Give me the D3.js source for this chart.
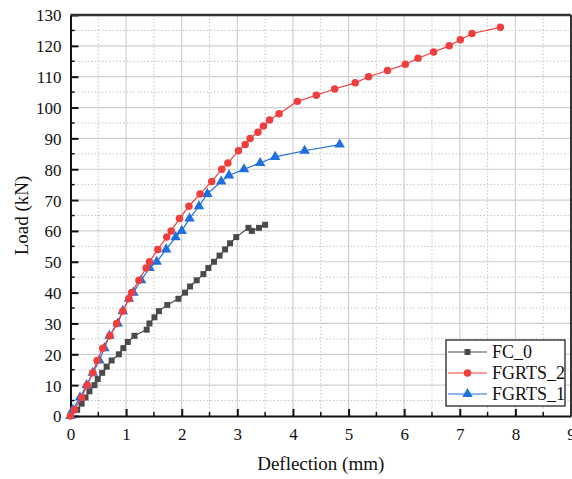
<!DOCTYPE html>
<html>
<head>
<meta charset="utf-8">
<script src="https://cdn.jsdelivr.net/npm/d3@7"></script>
<style>
  body { margin: 0; background: #fff; }
  text { font-family: "Liberation Serif", "Times New Roman", serif; }
</style>
</head>
<body>
<script>
var fc0X = [0,0.12,0.2,0.27,0.34,0.43,0.49,0.57,0.65,0.74,0.87,0.95,1.03,1.15,1.37,1.42,1.51,1.59,1.74,1.94,2.06,2.15,2.27,2.39,2.48,2.58,2.68,2.78,2.87,2.98,3.2,3.26,3.39,3.5];
var fc0Y = [0,2,4,6,8,10,12,14,16,18,20,22,24,26,28,30,32,34,36,38,40,42,44,46,48,50,52,54,56,58,61,60,61,62];

var fg2X = [0,0.07,0.2,0.3,0.4,0.48,0.58,0.71,0.83,0.94,1.05,1.1,1.23,1.36,1.42,1.57,1.73,1.81,1.96,2.13,2.33,2.54,2.72,2.83,3.02,3.14,3.23,3.37,3.47,3.58,3.75,4.08,4.42,4.75,5.12,5.36,5.7,6.02,6.25,6.53,6.81,7.01,7.22,7.73];
var fg2Y = [0,2,6,10,14,18,22,26,30,34,38,40,44,48,50,54,58,60,64,68,72,76,80,82,86,88,90,92,94,96,98,102,104,106,108,110,112,114,116,118,120,122,124,126];

var fg1X = [0,0.04,0.17,0.29,0.4,0.52,0.61,0.7,0.85,0.94,1.05,1.13,1.27,1.42,1.55,1.72,1.89,2.0,2.14,2.31,2.46,2.71,2.85,3.12,3.41,3.68,4.21,4.84];
var fg1Y = [0,2,6,10,14,18,22,26,30,34,38,40,44,48,50,54,58,60,64,68,72,76,78,80,82,84,86,88];

var xTicks = [0,1,2,3,4,5,6,7,8,9];
var yTicks = [0,10,20,30,40,50,60,70,80,90,100,110,120,130];
var seriesNames = ['FC_0','FGRTS_2','FGRTS_1'];
var colors = ['#4a4a4a','#ef3e3e','#1f6fdc'];
var shapes = [d3.symbolSquare, d3.symbolCircle, d3.symbolTriangle];
var symSizes = [36, 44, 48];

var W = 572, H = 479;
var padL = 70.5, padR = 571, padT = 15, padB = 416;

var svg = d3.select('body').append('svg').attr('width', W).attr('height', H);

var x = d3.scaleLinear().domain([0, 9]).range([padL, padR]);
var y = d3.scaleLinear().domain([0, 130]).range([padB, padT]);

// grid
var minorX = d3.range(0.5, 9, 1);
var minorY = d3.range(5, 130, 10);
svg.selectAll('line.mgx').data(minorX).enter().append('line')
    .attr('x1', function(d){ return x(d); }).attr('x2', function(d){ return x(d); })
    .attr('y1', padT).attr('y2', padB)
    .attr('stroke', '#c4c4c4').attr('stroke-dasharray', '1.5,2');
svg.selectAll('line.mgy').data(minorY).enter().append('line')
    .attr('y1', function(d){ return y(d); }).attr('y2', function(d){ return y(d); })
    .attr('x1', padL).attr('x2', padR)
    .attr('stroke', '#c4c4c4').attr('stroke-dasharray', '1.5,2');
svg.selectAll('line.gx').data(xTicks.slice(1, -1)).enter().append('line')
    .attr('x1', function(d){ return x(d); }).attr('x2', function(d){ return x(d); })
    .attr('y1', padT).attr('y2', padB)
    .attr('stroke', '#cfcfcf').attr('stroke-width', 1.2);
svg.selectAll('line.gy').data(yTicks.slice(1, -1)).enter().append('line')
    .attr('y1', function(d){ return y(d); }).attr('y2', function(d){ return y(d); })
    .attr('x1', padL).attr('x2', padR)
    .attr('stroke', '#cfcfcf').attr('stroke-width', 1.2);

// axes with inward ticks
var xAxis = svg.append('g').attr('transform', 'translate(0,' + padB + ')')
    .call(d3.axisBottom(x).tickValues(xTicks).tickSizeInner(-7).tickSizeOuter(0).tickPadding(16).tickFormat(d3.format('d')));
var yAxis = svg.append('g').attr('transform', 'translate(' + padL + ',0)')
    .call(d3.axisLeft(y).tickValues(yTicks).tickSizeInner(-8).tickSizeOuter(0).tickPadding(8).tickFormat(d3.format('d')));
[xAxis, yAxis].forEach(function(g){
  g.attr('font-family', '"Liberation Serif", serif');
  g.select('.domain').attr('stroke', '#111').attr('stroke-width', 2);
  g.selectAll('.tick line').attr('stroke', '#111').attr('stroke-width', 2);
  g.selectAll('.tick text').attr('font-size', 17).attr('fill', '#111');
});
xAxis.selectAll('.tick text').attr('dy', '0.35em').attr('y', 18);
yAxis.selectAll('.tick text').attr('dy', '0.35em').attr('x', -9);

svg.selectAll('line.mtx').data(minorX).enter().append('line')
    .attr('x1', function(d){ return x(d); }).attr('x2', function(d){ return x(d); })
    .attr('y1', padB).attr('y2', padB - 4)
    .attr('stroke', '#111').attr('stroke-width', 1.5);
svg.selectAll('line.mty').data(minorY).enter().append('line')
    .attr('y1', function(d){ return y(d); }).attr('y2', function(d){ return y(d); })
    .attr('x1', padL).attr('x2', padL + 4)
    .attr('stroke', '#111').attr('stroke-width', 1.5);

// top and right frame
svg.append('line').attr('x1', padL).attr('x2', padR).attr('y1', padT).attr('y2', padT)
    .attr('stroke', '#333').attr('stroke-width', 2.5);
svg.append('line').attr('x1', padR).attr('x2', padR).attr('y1', padT).attr('y2', padB)
    .attr('stroke', '#333').attr('stroke-width', 2);

// series
var allX = [fc0X, fg2X, fg1X];
var allY = [fc0Y, fg2Y, fg1Y];
var line = d3.line().x(function(d){ return x(d[0]); }).y(function(d){ return y(d[1]); });

[0, 2, 1].forEach(function(s){
  var pts = d3.zip(allX[s], allY[s]);
  var g = svg.append('g');
  g.append('path').datum(pts).attr('d', line)
      .attr('fill', 'none').attr('stroke', colors[s]).attr('stroke-width', 1.2);
  g.selectAll('path.m').data(pts).enter().append('path')
      .attr('class', 'm')
      .attr('d', d3.symbol().type(shapes[s]).size(symSizes[s]))
      .attr('transform', function(d){ return 'translate(' + x(d[0]) + ',' + y(d[1]) + ')'; })
      .attr('fill', colors[s]);
});

// legend
var lg = svg.append('g').attr('transform', 'translate(446,340)');
lg.append('rect').attr('width', 119).attr('height', 66)
    .attr('fill', '#fff').attr('stroke', '#111').attr('stroke-width', 1.2);
seriesNames.forEach(function(name, i){
  var ly = 12 + i * 21;
  lg.append('line').attr('x1', 2).attr('x2', 41).attr('y1', ly).attr('y2', ly)
      .attr('stroke', colors[i]).attr('stroke-width', 1.2);
  lg.append('path').attr('d', d3.symbol().type(shapes[i]).size(symSizes[i]))
      .attr('transform', 'translate(21.5,' + ly + ')').attr('fill', colors[i]);
  lg.append('text').attr('x', 46).attr('y', ly).attr('dy', '0.35em')
      .attr('font-size', 18).attr('fill', '#111').text(name);
});

// axis titles
svg.append('text').attr('x', (padL + padR) / 2).attr('y', 470)
    .attr('text-anchor', 'middle').attr('font-size', 19).attr('fill', '#111').text('Deflection (mm)');
svg.append('text').attr('transform', 'translate(28,' + ((padT + padB) / 2) + ') rotate(-90)')
    .attr('text-anchor', 'middle').attr('font-size', 19).attr('fill', '#111').text('Load (kN)');
</script>
</body>
</html>
